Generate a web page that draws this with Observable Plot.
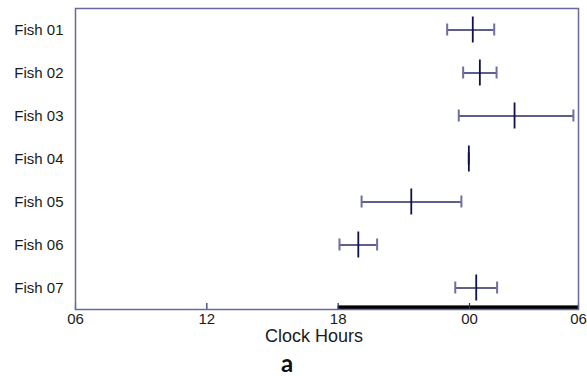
<!DOCTYPE html>
<html>
<head>
<meta charset="utf-8">
<script src="https://cdn.jsdelivr.net/npm/d3@7"></script>
<script src="https://cdn.jsdelivr.net/npm/@observablehq/plot@0.6"></script>
<style>
  html, body { margin: 0; padding: 0; background: #fff; }
  #chart { width: 587px; }
  .caption { width: 587px; font-family: Lato, "Open Sans", sans-serif; font-weight: 700; font-size: 24px; line-height: 30px; color: #111; }
  .caption span { position: relative; left: 281px; }
</style>
</head>
<body>
<div id="chart"></div>
<div class="caption"><span>a</span></div>
<script>
// Fish labels (rows)
const fish = ["Fish 01", "Fish 02", "Fish 03", "Fish 04", "Fish 05", "Fish 06", "Fish 07"];
// Clock hours on a 06 -> 06 day (24 = 00, 30 = 06 next day)
const meanHour = [24.18, 24.57, 26.48, 23.97, 21.34, 18.92, 24.37];
const lowHour  = [22.98, 23.71, 23.51, 23.97, 19.07, 18.06, 23.35];
const highHour = [25.36, 25.49, 29.72, 23.97, 23.63, 19.78, 25.52];
// Dark period bar
const nightStart = [18];
const nightEnd = [30];
// Axis ticks
const tickHours = [6, 12, 18, 24, 30];
const tickLabels = ["06", "12", "18", "00", "06"];

const rows = fish.map((f, i) => ({fish: f, mean: meanHour[i], lo: lowHour[i], hi: highHour[i]}));
const night = nightStart.map((s, i) => ({x1: s, x2: nightEnd[i]}));

const W = 587, H = 348, mt = 8, mb = 39;
const frameH = H - mt - mb;
const bw = frameH / fish.length;

const navy = "#2a2a68";
const dark = "#10104a";
const capC = "#6e6ea2";

const chart = Plot.plot({
  width: W,
  height: H,
  marginTop: mt,
  marginBottom: mb,
  marginLeft: 75,
  marginRight: 9,
  style: {fontFamily: "'Liberation Sans', Arial, sans-serif", fontSize: "15px", color: "#1a1a1a", background: "#fff"},
  x: {type: "linear", domain: [6, 24, 30], range: [75, 469, 578]},
  y: {type: "band", domain: fish, padding: 0},
  marks: [
    Plot.rect(night, {x1: "x1", x2: "x2", fill: "black", insetTop: frameH - 3.6}),
    Plot.axisY({tickSize: 0, tickPadding: 12, label: null, fill: "#1a1a1a"}),
    Plot.axisX({ticks: tickHours, tickSize: -6, stroke: navy, strokeWidth: 1.2, tickFormat: () => "", label: null}),
    Plot.axisX({ticks: tickHours, tickSize: 0, tickPadding: 4, tickFormat: (d, i) => tickLabels[i], label: null}),
    Plot.text(["Clock Hours"], {frameAnchor: "bottom", dy: 32, dx: -13, fontSize: 18, fill: "#1a1a1a"}),
    Plot.frame({stroke: "#6a6a98", strokeWidth: 1.5}),
    Plot.ruleY(rows, {y: "fish", x1: "lo", x2: "hi", stroke: navy, strokeWidth: 1.5}),
    Plot.tickX(rows, {y: "fish", x: "lo", stroke: capC, strokeWidth: 2, insetTop: (bw - 12) / 2, insetBottom: (bw - 12) / 2}),
    Plot.tickX(rows, {y: "fish", x: "hi", stroke: capC, strokeWidth: 2, insetTop: (bw - 12) / 2, insetBottom: (bw - 12) / 2}),
    Plot.tickX(rows, {y: "fish", x: "mean", stroke: dark, strokeWidth: 1.8, insetTop: (bw - 26) / 2, insetBottom: (bw - 26) / 2})
  ]
});
document.getElementById("chart").appendChild(chart);
</script>
</body>
</html>
